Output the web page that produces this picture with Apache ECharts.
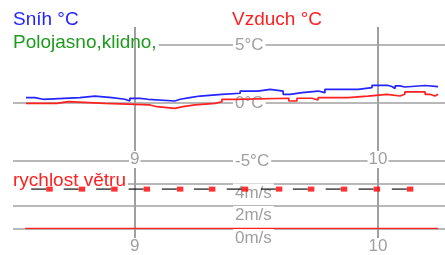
<!DOCTYPE html>
<html>
<head>
<meta charset="utf-8">
<script src="https://cdn.jsdelivr.net/npm/echarts@6/dist/echarts.min.js"></script>
<style>
  html, body { margin: 0; padding: 0; background: #fff; }
  #chart { width: 445px; height: 255px; }
</style>
</head>
<body>
<div id="chart"></div>
<script>
// cas v minutach od pulnoci
var snihCas = [513.2, 515.4, 517.4, 526.5, 530.2, 534.4, 537.6, 538.8, 541.3, 543.3,
               549.9, 551.2, 553.6, 556.1, 561.5, 566.0, 570.4, 573.4, 576.6, 578.3,
               581.3, 585.2, 586.9, 595.1, 598.5, 602.5, 603.4, 604.2, 605.4, 606.6,
               611.6, 614.8];
var snihTeplota = [0.46, 0.32, 0.46, 0.6, 0.46, 0.32, 0.17, 0.4, 0.32, 0.17,
                   0.32, 0.46, 0.6, 0.75, 0.84, 1.03, 1.18, 1.03, 0.75, 0.89,
                   1.03, 0.89, 1.18, 1.32, 1.51, 1.42, 1.25, 1.47, 1.38, 1.51,
                   1.41, 1.41];
var vzduchCas = [513.2, 520.8, 523.6, 532.7, 543.8, 545.5, 549.9, 551.9, 554.9, 559.8,
                 561.5, 564.7, 578.0, 580.0, 583.7, 585.2, 592.6, 597.5, 602.2, 605.4,
                 606.6, 611.6, 612.8, 614.0, 614.8];
var vzduchTeplota = [-0.03, 0.11, -0.03, -0.17, -0.32, -0.46, -0.32, -0.17, -0.03, 0.11,
                     0.32, 0.41, 0.17, 0.41, 0.26, 0.46, 0.6, 0.75, 0.6, 0.75,
                     0.95, 0.75, 0.6, 0.75, 0.75];
var vitrCas = [519, 527, 535, 543, 551.2, 559.1, 567.2, 575.6, 583.5, 591.6, 599.7, 607.9];
var vitrRychlost = [3.5, 3.5, 3.5, 3.5, 3.5, 3.5, 3.5, 3.5, 3.5, 3.5, 3.5, 3.5];
var narazCas = [513.0, 614.8];
var narazRychlost = [0, 0];
var hodiny = [540, 600];

function pary(xs, ys) {
    var out = [];
    for (var i = 0; i < xs.length; i++) out.push([xs[i], ys[i]]);
    return out;
}

var seda = '#a0a0a0';
var font = 'Liberation Sans';
var myChart = echarts.init(document.getElementById('chart'));

function titulek(text, left, top, color, bg, lh) {
    return {
        text: text, left: left, top: top, padding: [0, 2, 0, 0], z: 1,
        backgroundColor: bg ? '#fff' : 'transparent',
        textStyle: { color: color, fontFamily: font, fontSize: 19, fontWeight: 'normal', lineHeight: lh || 19 }
    };
}

function osaX(grid, isTop) {
    return {
        type: 'value', gridIndex: grid, min: 510, max: 616.5,
        position: 'bottom', z: isTop ? 1 : 0,
        axisLine: { show: false },
        axisTick: {
            show: !isTop, customValues: hodiny, length: 10,
            lineStyle: { color: seda, width: 2 }
        },
        axisLabel: {
            customValues: hodiny, margin: isTop ? -10 : 9.5,
            color: seda, fontFamily: font, fontSize: 17,
            backgroundColor: '#fff', padding: [0, 1],
            formatter: function (v) { return String(v / 60); }
        },
        splitLine: { show: true, lineStyle: { color: seda, width: 2 } }
    };
}

var option = {
    animation: false,
    title: [
        titulek('Sníh °C', 13, 10, '#2424ff'),
        titulek('Polojasno,klidno,', 13, 33, '#1e9a1e', true),
        titulek('Vzduch °C', 232, 10, '#ff2020'),
        titulek('rychlost větru', 13, 173.5, '#ff2020', true, 14)
    ],
    grid: [
        { left: 13, right: 0, top: 27, height: 134 },
        { left: 13, right: 0, top: 161, height: 74 }
    ],
    xAxis: [osaX(0, true), osaX(1, false)],
    yAxis: [
        {
            type: 'value', gridIndex: 0, min: -5, max: 6.55, interval: 5,
            axisLine: { show: false }, axisTick: { show: false },
            axisLabel: {
                inside: true, margin: 220, showMaxLabel: false,
                color: seda, fontFamily: font, fontSize: 17, lineHeight: 17,
                backgroundColor: '#fff', padding: [4, 2, 0, 2],
                formatter: function (v) { return v + '°C'; }
            },
            splitLine: { show: true, showMaxLine: false, lineStyle: { color: seda, width: 1.5 } }
        },
        {
            type: 'value', gridIndex: 1, min: 0, max: 6, interval: 2,
            axisLine: { show: false }, axisTick: { show: false },
            axisLabel: {
                inside: true, margin: 220, showMaxLabel: false, verticalAlign: 'top',
                color: seda, fontFamily: font, fontSize: 17, lineHeight: 17,
                backgroundColor: '#fff', padding: [1, 2, 0, 2],
                formatter: function (v) { return v + 'm/s'; }
            },
            splitLine: { show: true, showMaxLine: false, lineStyle: { color: seda, width: 1.5 } }
        }
    ],
    series: [
        {
            name: 'Sníh', type: 'line', step: 'end', showSymbol: false,
            xAxisIndex: 0, yAxisIndex: 0,
            lineStyle: { color: '#2424ff', width: 1.7 },
            data: pary(snihCas, snihTeplota)
        },
        {
            name: 'Vzduch', type: 'line', step: 'end', showSymbol: false,
            xAxisIndex: 0, yAxisIndex: 0,
            lineStyle: { color: '#ff2020', width: 1.7 },
            data: pary(vzduchCas, vzduchTeplota)
        },
        {
            name: 'naraz', type: 'line', showSymbol: false,
            xAxisIndex: 1, yAxisIndex: 1,
            lineStyle: { color: '#ff2020', width: 1.5 },
            data: pary(narazCas, narazRychlost)
        },
        {
            // carka pred kazdym bodem
            name: 'vitr carka', type: 'scatter', xAxisIndex: 1, yAxisIndex: 1,
            symbol: 'rect', symbolSize: [15, 1.5], symbolOffset: [-10.8, 0],
            itemStyle: { color: '#111' },
            data: pary(vitrCas, vitrRychlost)
        },
        {
            name: 'rychlost větru', type: 'scatter', xAxisIndex: 1, yAxisIndex: 1,
            symbol: 'rect', symbolSize: [6.5, 5],
            itemStyle: { color: '#ff0000' },
            data: pary(vitrCas, vitrRychlost)
        }
    ]
};
myChart.setOption(option);
</script>
</body>
</html>
